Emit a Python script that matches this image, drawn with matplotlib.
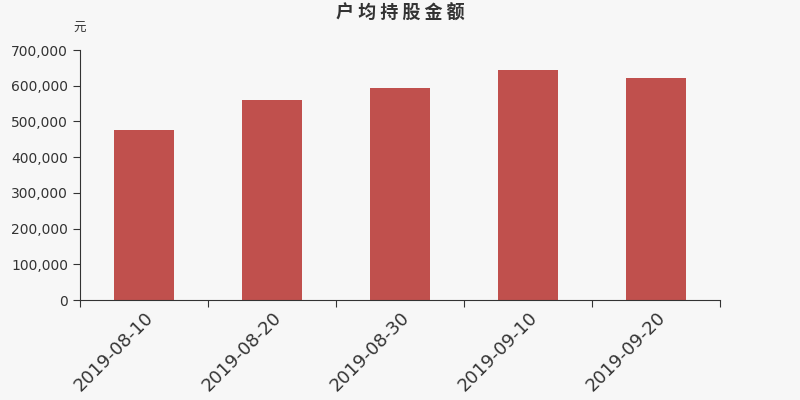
import numpy as np
from matplotlib import pyplot as plt
from matplotlib.ticker import FuncFormatter

plt.rcParams['font.family'] = ['DejaVu Sans', 'Noto Sans CJK SC']

dates = ['2019-08-10', '2019-08-20', '2019-08-30', '2019-09-10', '2019-09-20']
valeurs = [476000, 559000, 595000, 645000, 622000]

fond = '#f7f7f7'
fig = plt.figure(figsize=(8, 4), dpi=100, facecolor=fond)
ax = fig.add_axes([0.1, 0.25, 0.8, 0.625], facecolor=fond)

x = np.arange(len(dates))
ax.bar(x, valeurs, width=0.47, color='#c0504d', zorder=2)

ax.set_xlim(-0.5, len(dates) - 0.5)
ax.set_ylim(0, 700000)
ax.set_yticks(np.arange(0, 700001, 100000))
ax.yaxis.set_major_formatter(FuncFormatter(lambda v, p: '{:,.0f}'.format(v)))

# ticks aux bords des catégories, étiquettes au centre
ax.set_xticks(np.arange(-0.5, len(dates), 1))
ax.set_xticklabels([])
ax.set_xticks(x, minor=True)
ax.set_xticklabels(dates, minor=True, rotation=45, ha='right',
                   rotation_mode='anchor', fontsize=13, color='#333333')
ax.tick_params(axis='x', which='minor', length=0, pad=6)
ax.tick_params(axis='x', which='major', length=5, color='#333333')
ax.tick_params(axis='y', length=5, color='#333333', labelsize=10,
               labelcolor='#333333')

for s in ['top', 'right']:
    ax.spines[s].set_visible(False)
for s in ['left', 'bottom']:
    ax.spines[s].set_color('#333333')

fig.text(0.5, 0.966, '户 均 持 股 金 额', ha='center', va='center', fontsize=13,
         fontweight='bold', color='#333333',
         family=['Noto Sans CJK SC', 'DejaVu Sans'])
fig.text(0.1, 0.928, '元', ha='center', va='center', fontsize=9,
         color='#333333', family=['Noto Sans CJK SC', 'DejaVu Sans'])

plt.savefig('out.png', dpi=100, facecolor=fond)
